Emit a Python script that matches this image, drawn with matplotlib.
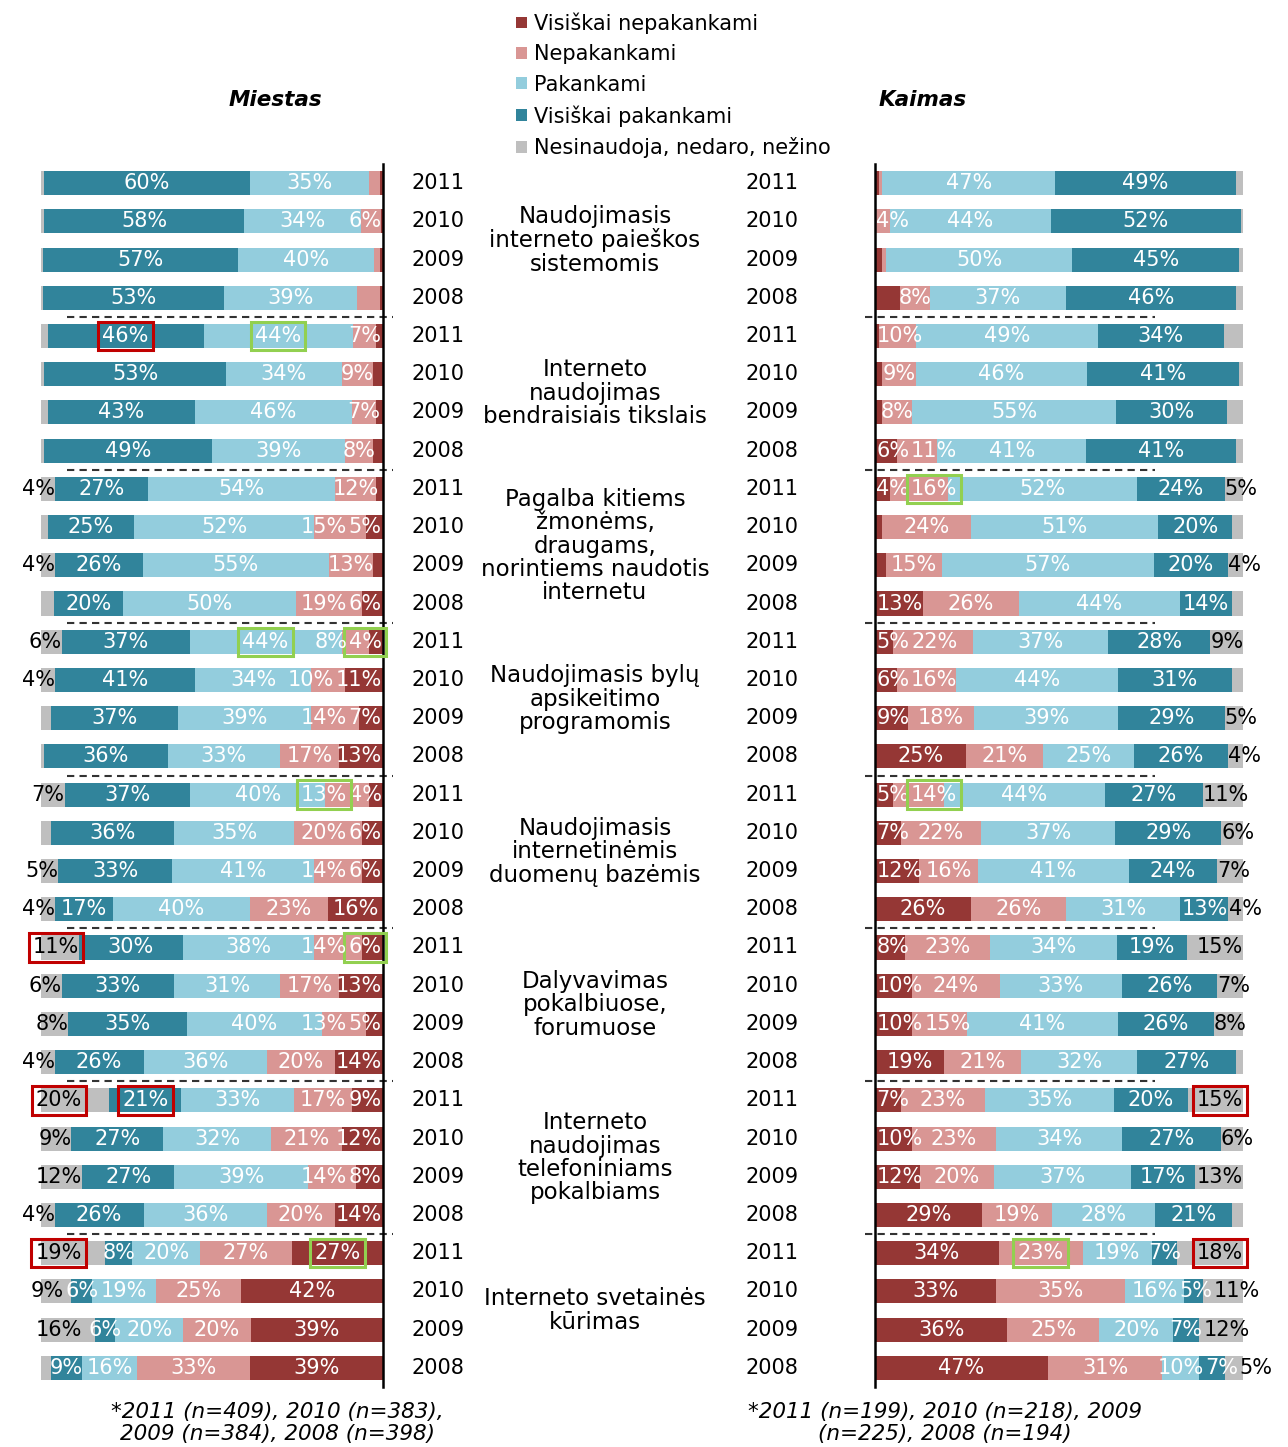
import numpy as np
import matplotlib
matplotlib.use("Agg")
import matplotlib.pyplot as plt
from matplotlib.patches import Patch
from matplotlib.transforms import blended_transform_factory

plt.rcParams['font.family'] = ['DejaVu Sans']

categories = ["Visiškai nepakankami", "Nepakankami", "Pakankami",
              "Visiškai pakankami", "Nesinaudoja, nedaro, nežino"]
colors = ["#953735", "#D99694", "#93CDDD", "#31849B", "#BFBFBF"]
years = ["2011", "2010", "2009", "2008"]
groups = [
    "Naudojimasis\ninterneto paieškos\nsistemomis",
    "Interneto\nnaudojimas\nbendraisiais tikslais",
    "Pagalba kitiems\nžmonėms,\ndraugams,\nnorintiems naudotis\ninternetu",
    "Naudojimasis bylų\napsikeitimo\nprogramomis",
    "Naudojimasis\ninternetinėmis\nduomenų bazėmis",
    "Dalyvavimas\npokalbiuose,\nforumuose",
    "Interneto\nnaudojimas\ntelefoniniams\npokalbiams",
    "Interneto svetainės\nkūrimas",
]

# one value per row: group by group, years 2011, 2010, 2009, 2008
# values (no printed label) are kept as decimals,
# only whole numbers get a label
miestas_vn = [1, 0.5, 1, 1, 2, 3, 2, 3, 2, 5, 3, 6, 4, 11, 7, 13,
              4, 6, 6, 16, 6, 13, 5, 14, 9, 12, 8, 14, 27, 42, 39, 39]
miestas_n = [3, 6, 1.5, 6.6, 7, 9, 7, 8, 12, 15, 13, 19, 8, 10, 14, 17,
             13, 20, 14, 23, 14, 17, 13, 20, 17, 21, 14, 20, 27, 25, 20, 33]
miestas_p = [35, 34, 40, 39, 44, 34, 46, 39, 54, 52, 55, 50, 44, 34, 39, 33,
             40, 35, 41, 40, 38, 31, 40, 36, 33, 32, 39, 36, 20, 19, 20, 16]
miestas_vp = [60, 58, 57, 53, 46, 53, 43, 49, 27, 25, 26, 20, 37, 41, 37, 36,
              37, 36, 33, 17, 30, 33, 35, 26, 21, 27, 27, 26, 8, 6, 6, 9]
miestas_nes = [1, 1, 0.5, 0.5, 2, 1, 2, 1, 4, 2, 4, 3.7, 6, 4, 3, 1,
               7, 3, 5, 4, 11, 6, 8, 4, 20, 9, 12, 4, 19, 9, 16, 3]

kaimas_vn = [1, 0, 2, 6.8, 1, 2, 2, 6, 4, 2, 3, 13, 5, 6, 9, 25,
             5, 7, 12, 26, 8, 10, 10, 19, 7, 10, 12, 29, 34, 33, 36, 47]
kaimas_n = [1, 4, 1, 8, 10, 9, 8, 11, 16, 24, 15, 26, 22, 16, 18, 21,
            14, 22, 16, 26, 23, 24, 15, 21, 23, 23, 20, 19, 23, 35, 25, 31]
kaimas_p = [47, 44, 50, 37, 49, 46, 55, 41, 52, 51, 57, 44, 37, 44, 39, 25,
            44, 37, 41, 31, 34, 33, 41, 32, 35, 34, 37, 28, 19, 16, 20, 10]
kaimas_vp = [49, 52, 45, 46, 34, 41, 30, 41, 24, 20, 20, 14, 28, 31, 29, 26,
             27, 29, 24, 13, 19, 26, 26, 27, 20, 27, 17, 21, 7, 5, 7, 7]
kaimas_nes = [2, 0.5, 1, 2, 5.2, 1, 4.2, 2, 5, 3, 4, 3, 9, 3, 5, 4,
              11, 6, 7, 4, 15, 7, 8, 2, 15, 6, 13, 3, 18, 11, 12, 5]

RED, GREEN = "#C00000", "#92D050"
# (row, category, colour) of the boxed labels
miestas_marks = [(4, 3, RED), (4, 2, GREEN), (12, 2, GREEN), (12, 0, GREEN),
                 (16, 1, GREEN), (20, 4, RED), (20, 0, GREEN), (24, 4, RED),
                 (24, 3, RED), (28, 4, RED), (28, 0, GREEN)]
kaimas_marks = [(8, 1, GREEN), (16, 1, GREEN), (24, 4, RED), (28, 1, GREEN),
                (28, 4, RED)]

W, H = 1288, 1447
fig = plt.figure(figsize=(W / 100, H / 100), dpi=100)
top, bottom = 164, 1387
ax_l = fig.add_axes([41 / W, 1 - bottom / H, 342 / W, (bottom - top) / H])
ax_r = fig.add_axes([875 / W, 1 - bottom / H, 368 / W, (bottom - top) / H])

n_rows = len(miestas_vn)
rows = np.arange(n_rows)
LABEL_FS = 15


def label_half(text, px_per_unit):
    # rough DejaVu width: digits 0.636 em, % 0.95 em
    em = LABEL_FS * 100 / 72
    w = em * (0.636 * (len(text) - 1) + 0.95)
    return w / 2 / px_per_unit


def draw_panel(ax, series, marks, width_px, side):
    raw = np.array(series, dtype=float).T
    widths = raw / raw.sum(axis=1, keepdims=True) * 100
    boxed = {(r, c): col for r, c, col in marks}
    ppu = width_px / 100
    starts = np.cumsum(widths, axis=1) - widths
    for c in range(5):
        ax.barh(rows, widths[:, c], left=starts[:, c], height=0.63,
                color=colors[c], edgecolor='none')

    for r in rows:
        prev_end = 0.0
        for c in range(5):
            v = raw[r, c]
            if v < 4 or v != round(v):
                continue
            txt = f"{v:.0f}%"
            half = label_half(txt, ppu)
            bbox = None
            if (r, c) in boxed:
                bbox = dict(boxstyle='square,pad=0.2', fc='none',
                            ec=boxed[(r, c)], lw=2.2)
            if c < 4:
                x = max(starts[r, c] + widths[r, c] / 2, prev_end + half + 0.4)
                ax.text(x, r, txt, ha='center', va='center', color='white',
                        fontsize=LABEL_FS, bbox=bbox, clip_on=False)
                prev_end = x + half
            else:
                near = max(starts[r, c], min(88, 100 - 2 * half), prev_end + 0.4)
                if side == 'left':
                    near = max(starts[r, c] if starts[r, c] > 88 else 88,
                               prev_end + 0.4)
                ax.text(near, r, txt, ha='right' if side == 'left' else 'left',
                        va='center', color='black', fontsize=LABEL_FS,
                        bbox=bbox, clip_on=False)

    ax.set_ylim(n_rows - 0.5, -0.5)
    if side == 'left':
        ax.set_xlim(100, 0)
        dash_x = [92.5, -3]
    else:
        ax.set_xlim(0, 100)
        dash_x = [-2.7, 76]
    for g in range(1, len(groups)):
        ax.plot(dash_x, [g * 4 - 0.5] * 2, color='#333333', lw=1.5,
                dashes=(3.5, 2.5), clip_on=False)
    ax.set_xticks([])
    ax.set_yticks([])
    for s in ax.spines.values():
        s.set_visible(False)
    keep = 'right' if side == 'left' else 'left'
    ax.spines[keep].set_visible(True)
    ax.spines[keep].set_linewidth(1.8)
    ax.patch.set_visible(False)


draw_panel(ax_l, [miestas_vn, miestas_n, miestas_p, miestas_vp, miestas_nes],
           miestas_marks, 342, 'left')
draw_panel(ax_r, [kaimas_vn, kaimas_n, kaimas_p, kaimas_vp, kaimas_nes],
           kaimas_marks, 368, 'right')

trans = blended_transform_factory(fig.transFigure, ax_l.transData)
for r in rows:
    ax_l.text(438 / W, r, years[r % 4], transform=trans, ha='center',
              va='center', fontsize=15, clip_on=False)
    ax_l.text(772 / W, r, years[r % 4], transform=trans, ha='center',
              va='center', fontsize=15, clip_on=False)
for g, name in enumerate(groups):
    ax_l.text(595 / W, g * 4 + 1.5, name, transform=trans, ha='center',
              va='center', fontsize=16.5, linespacing=1.02, clip_on=False)

fig.text(275 / W, 1 - 100 / H, "Miestas", ha='center', va='center',
         fontsize=15.5, weight='bold', style='italic')
fig.text(923 / W, 1 - 100 / H, "Kaimas", ha='center', va='center',
         fontsize=15.5, weight='bold', style='italic')

handles = [Patch(facecolor=c, edgecolor='none') for c in colors]
fig.legend(handles, categories, loc='upper left',
           bbox_to_anchor=(508 / W, 1 - 4 / H), frameon=False,
           fontsize=15, handlelength=0.5, handleheight=0.5,
           handletextpad=0.35, labelspacing=0.5, borderaxespad=0)

fig.text(277 / W, 1 - 1423 / H, "*2011 (n=409), 2010 (n=383),\n2009 (n=384), 2008 (n=398)",
         ha='center', va='center', fontsize=15.5, style='italic', linespacing=1.1)
fig.text(945 / W, 1 - 1423 / H, "*2011 (n=199), 2010 (n=218), 2009\n(n=225), 2008 (n=194)",
         ha='center', va='center', fontsize=15.5, style='italic', linespacing=1.1)

fig.savefig("out.png", dpi=100)
